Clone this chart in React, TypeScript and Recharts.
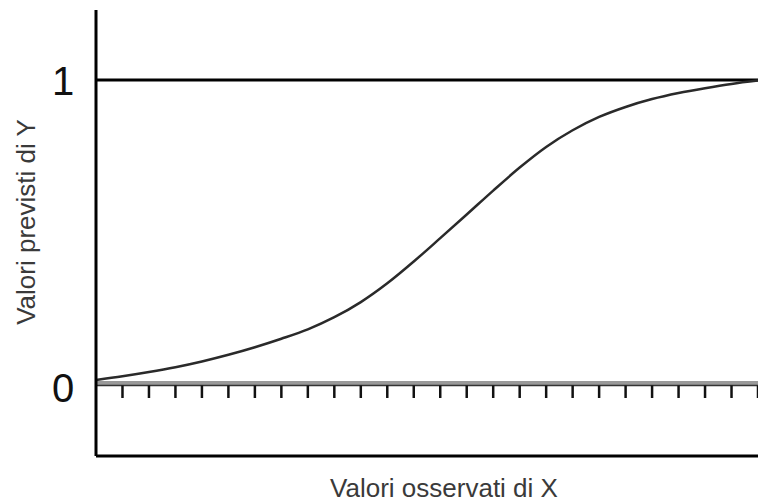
import React from "react";
import { LineChart, Line, XAxis, YAxis, ReferenceLine } from "recharts";

// osservazioni X (unità 0..25) e valori previsti di Y
const xValues = [0, 1, 2, 3, 4, 5, 6, 7, 8, 9, 10, 11, 12, 13, 14, 15, 16, 17, 18, 19, 20, 21, 22, 23, 24, 25];
const yPredicted = [
  0.01, 0.022, 0.036, 0.052, 0.071, 0.093, 0.118, 0.146, 0.177, 0.217, 0.267, 0.329, 0.401,
  0.478, 0.556, 0.635, 0.711, 0.779, 0.834, 0.878, 0.911, 0.937, 0.957, 0.973, 0.987, 0.998,
];
const yTicks = [0, 1];
const scaleMarks = [1, 2, 3, 4, 5, 6, 7, 8, 9, 10, 11, 12, 13, 14, 15, 16, 17, 18, 19, 20, 21, 22, 23, 24, 25];

const X_LABEL = "Valori osservati di X";
const Y_LABEL = "Valori previsti di Y";

const data = xValues.map((x, i) => ({ x, y: yPredicted[i] }));

const FONT = "'Liberation Sans', Arial, sans-serif";

function YTick(props: any) {
  const { y, payload } = props;
  const shift = payload.value === 0 ? 19 : 15;
  return (
    <text x={63} y={y + shift} textAnchor="middle" fontSize={40} fontFamily={FONT} fill="#111">
      {payload.value}
    </text>
  );
}

export default function App() {
  return (
    <div style={{ position: "absolute", left: 0, top: 0, background: "#fff" }}>
      <LineChart width={758} height={502} data={data} margin={{ top: 10, right: 0, bottom: 0, left: 0 }}>
        <XAxis
          dataKey="x"
          type="number"
          domain={[0, 25]}
          tick={false}
          tickLine={false}
          axisLine={{ stroke: "#000", strokeWidth: 3 }}
          height={46}
          label={{
            content: () => (
              <text x={444} y={497} textAnchor="middle" fontSize={26} fontFamily={FONT} fill="#3a3a3a">
                {X_LABEL}
              </text>
            ),
          }}
        />
        <YAxis
          type="number"
          domain={[-0.241, 1.231]}
          ticks={yTicks}
          tick={<YTick />}
          tickLine={false}
          axisLine={{ stroke: "#000", strokeWidth: 3 }}
          width={96}
          label={{
            content: () => (
              <text
                x={26}
                y={222}
                transform="rotate(-90 26 222)"
                textAnchor="middle"
                dominantBaseline="central"
                fontSize={26}
                fontFamily={FONT}
                fill="#3a3a3a"
              >
                {Y_LABEL}
              </text>
            ),
          }}
        />
        <ReferenceLine y={1} stroke="#000" strokeWidth={3} />
        <ReferenceLine y={0} stroke="#999" strokeWidth={4} />
        <ReferenceLine y={-0.0083} stroke="#333" strokeWidth={1.5} />
        {scaleMarks.map((m) => (
          <ReferenceLine
            key={m}
            segment={[
              { x: m, y: -0.0083 },
              { x: m, y: -0.0495 },
            ]}
            stroke="#111"
            strokeWidth={2.5}
          />
        ))}
        <Line
          type="monotone"
          dataKey="y"
          stroke="#2a2a2a"
          strokeWidth={2.5}
          dot={false}
          isAnimationActive={false}
        />
      </LineChart>
    </div>
  );
}
